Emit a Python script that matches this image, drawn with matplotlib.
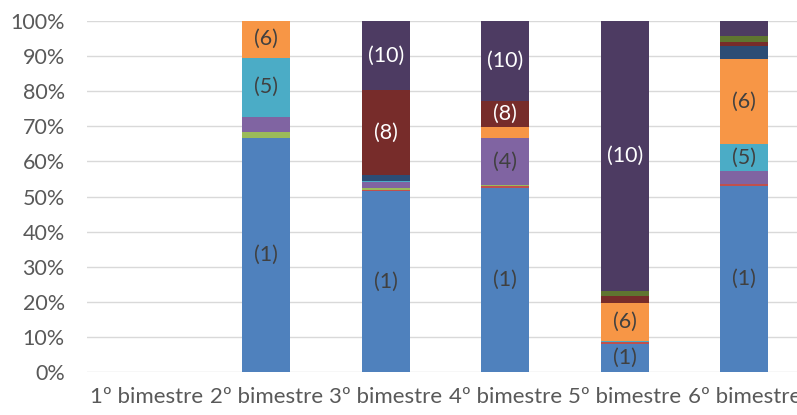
import numpy as np
import matplotlib.pyplot as plt
from matplotlib.ticker import FuncFormatter

plt.rcParams['font.family'] = ['Lato', 'DejaVu Sans']

categories = ['1º bimestre', '2º bimestre', '3º bimestre',
              '4º bimestre', '5º bimestre', '6º bimestre']

# share of each group per bimester (percent)
s1 = [0, 66.8, 51.5, 52.4, 8.1, 53.0]
s2 = [0, 0.0, 0.4, 0.5, 0.4, 0.5]
s3 = [0, 1.7, 0.5, 0.3, 0.0, 0.0]
s4 = [0, 4.1, 1.8, 13.5, 0.0, 3.7]
s5 = [0, 17.0, 0.4, 0.0, 0.3, 7.9]
s6 = [0, 10.4, 0.0, 3.1, 10.9, 24.0]
s7 = [0, 0.0, 1.6, 0.0, 0.0, 3.7]
s8 = [0, 0.0, 24.2, 7.4, 2.0, 1.1]
s9 = [0, 0.0, 0.0, 0.0, 1.4, 1.9]
s10 = [0, 0.0, 19.7, 22.7, 76.8, 4.2]

series = [s1, s2, s3, s4, s5, s6, s7, s8, s9, s10]
names = ['(%d)' % (i + 1) for i in range(len(series))]
colors = ['#4F81BD', '#C0504D', '#9BBB59', '#8064A2', '#4BACC6',
          '#F79646', '#2C4D75', '#772C2A', '#5F7530', '#4D3B62']
label_colors = ['#404040'] * 6 + ['white'] * 4

data = np.array(series, dtype=float)
totals = data.sum(axis=0)
shares = np.divide(data, totals, out=np.zeros_like(data), where=totals > 0) * 100

fig = plt.figure(figsize=(7.97, 4.15), dpi=100)
ax = fig.add_axes([0.109, 0.1036, 0.9, 0.8458])

x = np.arange(len(categories))
bottom = np.zeros(len(categories))
for vals, name, col, lcol in zip(shares, names, colors, label_colors):
    ax.bar(x, vals, width=0.4, bottom=bottom, color=col, zorder=3)
    for xi, v, b in zip(x, vals, bottom):
        if v >= 5:
            ax.text(xi, b + v / 2, name, ha='center', va='center',
                    fontsize=15.5, color=lcol, zorder=4)
    bottom += vals

ax.set_xlim(-0.5, len(categories) - 0.5)
ax.set_ylim(0, 100)
ax.set_yticks(np.arange(0, 101, 10))
ax.yaxis.set_major_formatter(FuncFormatter(lambda v, p: '%d%%' % v))
ax.set_xticks(x)
ax.set_xticklabels(categories)
ax.grid(axis='y', color='#D9D9D9', linewidth=1, zorder=0)
ax.tick_params(axis='both', length=0, labelcolor='#595959')
ax.tick_params(axis='y', pad=16, labelsize=15.5)
ax.tick_params(axis='x', pad=11, labelsize=16)
for s in ax.spines.values():
    s.set_visible(False)

fig.savefig('out.png', dpi=100)
